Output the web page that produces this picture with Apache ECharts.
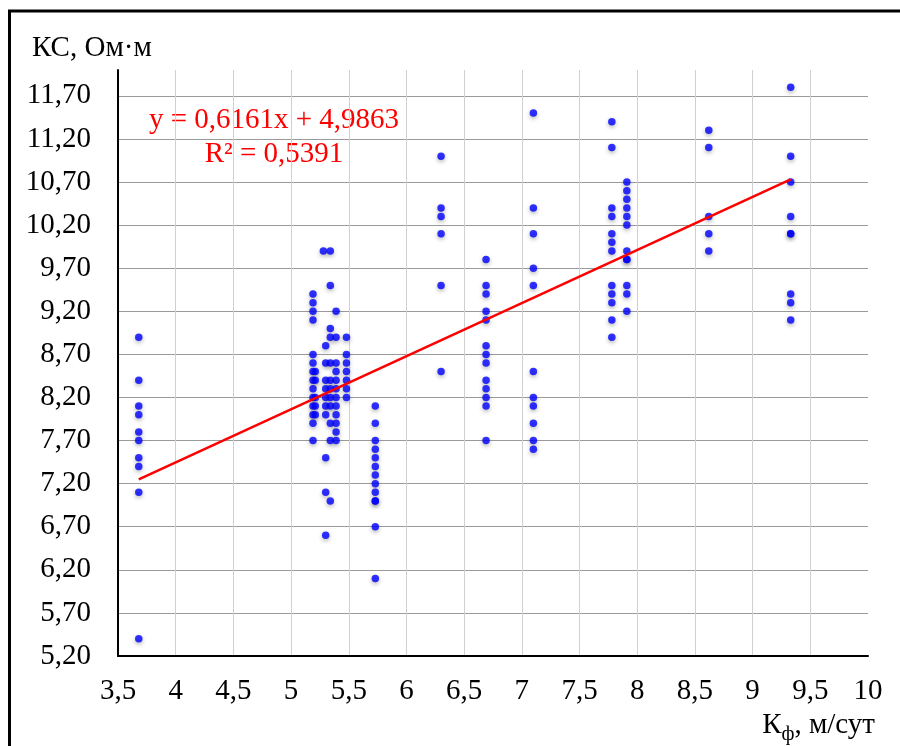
<!DOCTYPE html>
<html>
<head>
<meta charset="utf-8">
<script src="https://cdn.jsdelivr.net/npm/echarts@6/dist/echarts.min.js"></script>
<style>
html,body{margin:0;padding:0;background:#fff;}
#chart{width:900px;height:746px;}
</style>
</head>
<body>
<div id="chart"></div>
<script>
// Kф columns (x) and the КС values read at each column
var colX = [3.68, 5.19, 5.21, 5.28, 5.30, 5.34, 5.39, 5.48, 5.73, 6.30, 6.69, 7.10, 7.78, 7.91, 8.62, 9.33];
var colY = [
	[8.9, 8.4, 8.1, 8.0, 7.8, 7.7, 7.5, 7.4, 7.1, 5.4],
	[9.4, 9.3, 9.2, 9.1, 8.7, 8.6, 8.5, 8.4, 8.3, 8.2, 8.1, 8.0, 7.9, 7.7],
	[8.5, 8.4, 8.2, 8.1, 8.0],
	[9.9],
	[8.8, 8.6, 8.4, 8.3, 8.2, 8.1, 8.0, 7.5, 7.1, 6.6],
	[9.9, 9.5, 9.0, 8.9, 8.6, 8.4, 8.3, 8.2, 8.1, 7.9, 7.7, 7.0],
	[9.2, 8.9, 8.6, 8.5, 8.4, 8.3, 8.2, 8.1, 8.0, 7.9, 7.8, 7.7],
	[8.9, 8.7, 8.6, 8.5, 8.4, 8.3, 8.2],
	[8.1, 7.9, 7.7, 7.6, 7.5, 7.4, 7.3, 7.2, 7.1, 7.0, 7.0, 6.7, 6.1],
	[11.0, 10.4, 10.3, 10.1, 9.5, 8.5],
	[9.8, 9.5, 9.4, 9.2, 9.1, 8.8, 8.7, 8.6, 8.4, 8.3, 8.2, 8.1, 7.7],
	[11.5, 10.4, 10.1, 9.7, 9.5, 8.5, 8.2, 8.1, 7.9, 7.7, 7.6],
	[11.4, 11.1, 10.4, 10.3, 10.1, 10.0, 9.9, 9.5, 9.4, 9.3, 9.1, 8.9],
	[10.7, 10.6, 10.5, 10.4, 10.3, 10.2, 9.9, 9.8, 9.8, 9.5, 9.4, 9.2],
	[11.3, 11.1, 10.3, 10.1, 9.9],
	[11.8, 11.0, 10.7, 10.3, 10.1, 10.1, 9.4, 9.3, 9.1]
];
// linear trend endpoints (as drawn)
var trendX = [3.68, 9.33];
var trendY = [7.25, 10.73];
var eqLines = ['y = 0,6161x + 4,9863', 'R² = 0,5391'];

var FONT = '"Liberation Serif", "Times New Roman", serif';
var FS = 29;

function toPoints(){
	var d = [];
	for (var i = 0; i < colX.length; i++) {
		for (var j = 0; j < colY[i].length; j++) {
			d.push([colX[i], colY[i][j]]);
		}
	}
	return d;
}

function toTrend(){
	var d = [];
	for (var i = 0; i < trendX.length; i++) {
		d.push([trendX[i], trendY[i]]);
	}
	return d;
}

var chart = echarts.init(document.getElementById('chart'));
var option = {
	backgroundColor: '#fff',
	animation: false,
	textStyle: {fontFamily: FONT},
	title: [
		{
			text: 'КС, Ом·м',
			left: 27, top: 29,
			textStyle: {fontFamily: FONT, fontSize: FS, fontWeight: 'normal', color: '#000'}
		},
		{
			text: '{a|К}{sub|ф}{a|, м/сут}',
			right: 20, top: 700,
			textStyle: {
				fontWeight: 'normal',
				rich: {
					a: {fontFamily: FONT, fontSize: FS, fontWeight: 'normal', color: '#000', lineHeight: 40, verticalAlign: 'middle'},
					sub: {fontFamily: FONT, fontSize: 20, fontWeight: 'normal', color: '#000', lineHeight: 20, verticalAlign: 'bottom'}
				}
			}
		}
	],
	grid: {left: 118, right: 32, top: 70, bottom: 90, containLabel: false},
	xAxis: {
		type: 'value',
		min: 3.5, max: 10, interval: 0.5,
		axisLine: {show: true, lineStyle: {color: '#000', width: 2}},
		axisTick: {show: false},
		axisLabel: {
			margin: 21, fontSize: FS, color: '#000', fontFamily: FONT,
			formatter: function(v){ return String(v).replace('.', ','); }
		},
		splitLine: {show: true, showMinLine: false, showMaxLine: false, lineStyle: {color: '#d0d0d0', width: 1}}
	},
	yAxis: {
		type: 'value',
		min: 5.2, max: 12.0, interval: 0.5,
		axisLine: {show: true, lineStyle: {color: '#000', width: 2}},
		axisTick: {show: false},
		axisLabel: {
			margin: 27, fontSize: FS, color: '#000', fontFamily: FONT,
			showMaxLabel: false,
			formatter: function(v){ return v.toFixed(2).replace('.', ','); }
		},
		splitLine: {show: true, showMinLine: false, showMaxLine: false, lineStyle: {color: '#9a9a9a', width: 1}}
	},
	series: [
		{
			name: 'КС',
			type: 'scatter',
			symbol: 'circle',
			symbolSize: 7.5,
			itemStyle: {
				color: '#0000ff',
				shadowBlur: 4,
				shadowColor: 'rgba(0,0,0,0.35)',
				shadowOffsetY: 2
			},
			data: toPoints(),
			z: 3
		},
		{
			name: 'trend',
			type: 'line',
			symbol: 'none',
			lineStyle: {color: '#ff0000', width: 2.5},
			data: toTrend(),
			z: 4
		}
	],
	graphic: [
		{
			type: 'text', x: 274, y: 120,
			style: {text: eqLines[0], font: FS + 'px ' + FONT, fill: '#ff0000', textAlign: 'center', textVerticalAlign: 'middle'}
		},
		{
			type: 'text', x: 274, y: 154,
			style: {text: eqLines[1], font: FS + 'px ' + FONT, fill: '#ff0000', textAlign: 'center', textVerticalAlign: 'middle'}
		},
		{
			type: 'rect',
			shape: {x: 9.5, y: 11, width: 900, height: 760},
			style: {fill: 'none', stroke: '#000', lineWidth: 3}
		}
	]
};
chart.setOption(option);
</script>
</body>
</html>
